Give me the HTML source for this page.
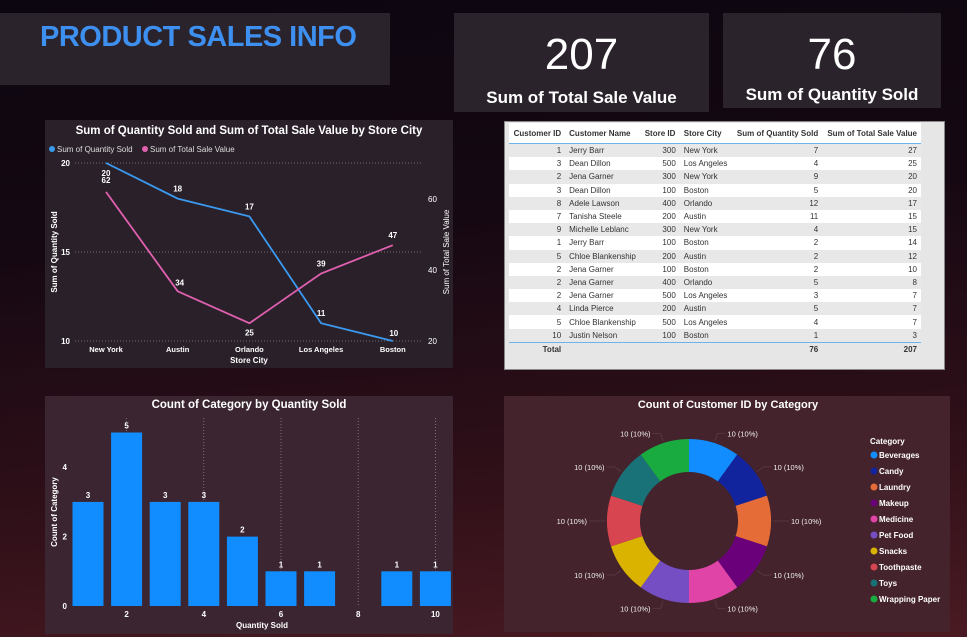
<!DOCTYPE html>
<html><head><meta charset="utf-8">
<style>
body{margin:0;width:967px;height:637px;overflow:hidden;font-family:"Liberation Sans",sans-serif;
background:linear-gradient(175deg,#0c0610 0%,#150812 35%,#2e0f18 70%,#4a1a22 100%);position:relative}
.panel{position:absolute;background:rgba(60,50,60,0.55)}
.t{position:absolute;color:#fff;font-weight:bold}
table{border-collapse:collapse;font-size:8px;color:#333;width:100%}
td,th{padding:0 4px;height:13.2px;white-space:nowrap}
th{font-weight:bold;text-align:left;border-bottom:1px solid #6fb3e8;height:20px}
tr:nth-child(even) td{background:#e8e8e8}
.r{text-align:right}
</style></head><body>
<div class="panel" style="left:0;top:13px;width:390px;height:72px;background:#2a232b"></div>
<div class="t" style="left:40px;top:21px;font-size:29px;color:#3d8ff0;letter-spacing:-0.5px">PRODUCT SALES INFO</div>
<div class="panel" style="left:454px;top:13px;width:255px;height:99px;background:#2a232b"></div>
<div class="t" style="left:454px;top:30px;width:255px;text-align:center;font-size:44px;font-weight:normal">207</div>
<div class="t" style="left:454px;top:88px;width:255px;text-align:center;font-size:17px">Sum of Total Sale Value</div>
<div class="panel" style="left:723px;top:13px;width:218px;height:95px;background:#2a232b"></div>
<div class="t" style="left:723px;top:30px;width:218px;text-align:center;font-size:44px;font-weight:normal">76</div>
<div class="t" style="left:723px;top:85px;width:218px;text-align:center;font-size:17px">Sum of Quantity Sold</div>

<svg width="967" height="637" style="position:absolute;left:0;top:0" font-family="Liberation Sans, sans-serif">
<rect x="45" y="120" width="408" height="248" fill="#2a2029"/>
<g id="line"></g>
<rect x="45" y="396" width="408" height="238" fill="#3a2530"/>
<g id="bar"></g>
<rect x="504" y="396" width="446" height="236" fill="#44232c"/>
<g id="donut"></g>
</svg>

<div style="position:absolute;left:504px;top:121px;width:439px;height:247px;background:#e6e6e6;border:1px solid #888">
<div style="margin:1px 4px 0 4px;background:#fff;width:412px">
<table>
<tr><th class="r">Customer ID</th><th>Customer Name</th><th>Store ID</th><th>Store City</th><th class="r">Sum of Quantity Sold</th><th class="r">Sum of Total Sale Value</th></tr>
<tr><td class="r">1</td><td>Jerry Barr</td><td class="r">300</td><td>New York</td><td class="r">7</td><td class="r">27</td></tr>
<tr><td class="r">3</td><td>Dean Dillon</td><td class="r">500</td><td>Los Angeles</td><td class="r">4</td><td class="r">25</td></tr>
<tr><td class="r">2</td><td>Jena Garner</td><td class="r">300</td><td>New York</td><td class="r">9</td><td class="r">20</td></tr>
<tr><td class="r">3</td><td>Dean Dillon</td><td class="r">100</td><td>Boston</td><td class="r">5</td><td class="r">20</td></tr>
<tr><td class="r">8</td><td>Adele Lawson</td><td class="r">400</td><td>Orlando</td><td class="r">12</td><td class="r">17</td></tr>
<tr><td class="r">7</td><td>Tanisha Steele</td><td class="r">200</td><td>Austin</td><td class="r">11</td><td class="r">15</td></tr>
<tr><td class="r">9</td><td>Michelle Leblanc</td><td class="r">300</td><td>New York</td><td class="r">4</td><td class="r">15</td></tr>
<tr><td class="r">1</td><td>Jerry Barr</td><td class="r">100</td><td>Boston</td><td class="r">2</td><td class="r">14</td></tr>
<tr><td class="r">5</td><td>Chloe Blankenship</td><td class="r">200</td><td>Austin</td><td class="r">2</td><td class="r">12</td></tr>
<tr><td class="r">2</td><td>Jena Garner</td><td class="r">100</td><td>Boston</td><td class="r">2</td><td class="r">10</td></tr>
<tr><td class="r">2</td><td>Jena Garner</td><td class="r">400</td><td>Orlando</td><td class="r">5</td><td class="r">8</td></tr>
<tr><td class="r">2</td><td>Jena Garner</td><td class="r">500</td><td>Los Angeles</td><td class="r">3</td><td class="r">7</td></tr>
<tr><td class="r">4</td><td>Linda Pierce</td><td class="r">200</td><td>Austin</td><td class="r">5</td><td class="r">7</td></tr>
<tr><td class="r">5</td><td>Chloe Blankenship</td><td class="r">500</td><td>Los Angeles</td><td class="r">4</td><td class="r">7</td></tr>
<tr><td class="r">10</td><td>Justin Nelson</td><td class="r">100</td><td>Boston</td><td class="r">1</td><td class="r">3</td></tr>
<tr style="border-top:1px solid #6fb3e8"><td class="r" style="background:#e6e6e6;font-weight:bold">Total</td><td style="background:#e6e6e6"></td><td style="background:#e6e6e6"></td><td style="background:#e6e6e6"></td><td class="r" style="background:#e6e6e6;font-weight:bold">76</td><td class="r" style="background:#e6e6e6;font-weight:bold">207</td></tr>
</table></div></div>

<script>
const NS="http://www.w3.org/2000/svg";
function mk(p,tag,a,txt){const e=document.createElementNS(NS,tag);for(const k in a)e.setAttribute(k,a[k]);if(txt!==undefined)e.textContent=txt;p.appendChild(e);return e;}

// ---- line chart data
const cities=["New York","Austin","Orlando","Los Angeles","Boston"];
const qtySold=[20,18,17,11,10];
const saleValue=[62,34,25,39,47];
const leftTicks=[10,15,20];
const rightTicks=[20,40,60];

// ---- bar chart data
const qtyCategories=[1,2,3,4,5,6,7,8,9,10];
const categoryCounts=[3,5,3,3,2,1,1,0,1,1];
const barYTicks=[0,2,4];
const barXTicks=[2,4,6,8,10];

// ---- donut data
const donutCats=["Beverages","Candy","Laundry","Makeup","Medicine","Pet Food","Snacks","Toothpaste","Toys","Wrapping Paper"];
const donutCounts=[10,10,10,10,10,10,10,10,10,10];
const donutColors=["#118dff","#12239e","#e66c37","#6b007b","#e044a7","#744ec2","#d9b300","#d64550","#197278","#1aab40"];

// Line chart
(function(){
const g=document.getElementById('line');
const xL=i=>106+i*71.7, yL=v=>341-(v-10)*17.8, yR=v=>341-(v-20)*3.55;
const t=mk(g,'text',{x:249,y:134,'text-anchor':'middle','font-size':11.5,'font-weight':'bold',fill:'#fff'},"Sum of Quantity Sold and Sum of Total Sale Value by Store City");


const l1=mk(g,'circle',{cx:52,cy:149,r:3,fill:'#3a9af0'});


mk(g,'text',{x:57,y:152,'font-size':8,fill:'#ddd'},"Sum of Quantity Sold");
const l2=mk(g,'circle',{cx:145,cy:149,r:3,fill:'#e060b0'});


mk(g,'text',{x:150,y:152,'font-size':8,fill:'#ddd'},"Sum of Total Sale Value");
leftTicks.forEach(v=>{
  const gl=mk(g,'line',{x1:75,x2:423,y1:yL(v),y2:yL(v),stroke:'#888','stroke-dasharray':'1,2','stroke-width':0.8});
  
  
  const tx=mk(g,'text',{x:70,y:yL(v)+3,'text-anchor':'end','font-size':8,'font-weight':'bold',fill:'#fff'},v);
  
  
});
rightTicks.forEach(v=>{
  const tx=mk(g,'text',{x:428,y:yR(v)+3,'font-size':8,fill:'#fff'},v);
  
  
});
cities.forEach((c,i)=>{
  const tx=mk(g,'text',{x:xL(i),y:352,'text-anchor':'middle','font-size':7.5,'font-weight':'bold',fill:'#fff'},c);
  
  
});
const xt=mk(g,'text',{x:249,y:363,'text-anchor':'middle','font-size':8,'font-weight':'bold',fill:'#fff'},"Store City");


const ylt=mk(g,'text',{x:0,y:0,transform:'translate(57,252) rotate(-90)','text-anchor':'middle','font-size':8,'font-weight':'bold',fill:'#fff'},"Sum of Quantity Sold");


const yrt=mk(g,'text',{x:0,y:0,transform:'translate(449,252) rotate(-90)','text-anchor':'middle','font-size':8,fill:'#fff'},"Sum of Total Sale Value");


const p1=mk(g,'polyline',{points:qtySold.map((v,i)=>xL(i)+','+yL(v)).join(' '),fill:'none',stroke:'#3a9af0','stroke-width':1.8});


const p2=mk(g,'polyline',{points:saleValue.map((v,i)=>xL(i)+','+yR(v)).join(' '),fill:'none',stroke:'#e060b0','stroke-width':1.8});


qtySold.forEach((v,i)=>{
  const tx=mk(g,'text',{x:xL(i)+(i===4?1:0),y:yL(v)+(i===0?13:(i===4?-5:-7)),'text-anchor':'middle','font-size':8,'font-weight':'bold',fill:'#fff'},v);
  
  
});
saleValue.forEach((v,i)=>{
  const off=(i===2)?12:-7;
  const tx=mk(g,'text',{x:xL(i)+(i===1?2:0),y:yR(v)+(i===0?-9:(i===1?-6:off)),'text-anchor':'middle','font-size':8,'font-weight':'bold',fill:'#fff'},v);
  
  
});
})();

// Bar chart
(function(){
const g=document.getElementById('bar');
const xB=v=>88+(v-1)*38.6, yB=v=>606-v*34.7, bw=31;
const t=mk(g,'text',{x:249,y:408,'text-anchor':'middle','font-size':11.5,'font-weight':'bold',fill:'#fff'},"Count of Category by Quantity Sold");


barYTicks.forEach(v=>{
  const tx=mk(g,'text',{x:67,y:yB(v)+3,'text-anchor':'end','font-size':8,'font-weight':'bold',fill:'#fff'},v);
  
  
});
barXTicks.forEach(v=>{
  const gl=mk(g,'line',{x1:xB(v),x2:xB(v),y1:418,y2:606,stroke:'#888','stroke-dasharray':'1,2','stroke-width':0.8});
  
  
  const tx=mk(g,'text',{x:xB(v),y:617,'text-anchor':'middle','font-size':8,'font-weight':'bold',fill:'#fff'},v);
  
  
});
const xt=mk(g,'text',{x:262,y:628,'text-anchor':'middle','font-size':8,'font-weight':'bold',fill:'#fff'},"Quantity Sold");


const yt=mk(g,'text',{x:0,y:0,transform:'translate(57,512) rotate(-90)','text-anchor':'middle','font-size':8,'font-weight':'bold',fill:'#fff'},"Count of Category");


qtyCategories.forEach((c,i)=>{
  const v=categoryCounts[i]; if(!v) return;
  const r=mk(g,'rect',{x:xB(c)-bw/2,y:yB(v),width:bw,height:yB(0)-yB(v),fill:'#118dff'});
  
  
  const tx=mk(g,'text',{x:xB(c),y:yB(v)-4,'text-anchor':'middle','font-size':8,'font-weight':'bold',fill:'#fff'},v);
  
  
});
})();

// Donut
(function(){
const g=document.getElementById('donut');
const cx=689,cy=521,R=82,r=49;
const t=mk(g,'text',{x:728,y:408,'text-anchor':'middle','font-size':11,'font-weight':'bold',fill:'#fff'},"Count of Customer ID by Category");


const total=donutCounts.reduce((a,b)=>a+b,0);
let a0=0;
donutCounts.forEach((v,i)=>{
  const a1=a0+v/total*2*Math.PI;
  const P=(rad,a)=>[cx+rad*Math.sin(a),cy-rad*Math.cos(a)];
  const [x1,y1]=P(R,a0),[x2,y2]=P(R,a1),[x3,y3]=P(r,a1),[x4,y4]=P(r,a0);
  const large=(a1-a0)>Math.PI?1:0;
  const s=mk(g,'path',{d:`M${x1},${y1}A${R},${R} 0 ${large} 1 ${x2},${y2}L${x3},${y3}A${r},${r} 0 ${large} 0 ${x4},${y4}Z`,fill:donutColors[i]});
  
  
  const am=(a0+a1)/2;
  const [ex,ey]=P(R+2,am);
  const [lx,ly]=P(R+10,am);
  const right=Math.sin(am)>0;
  const ln=mk(g,'polyline',{points:`${ex},${ey} ${lx},${ly} ${lx+(right?8:-8)},${ly}`,fill:'none',stroke:'#5a3a44','stroke-width':0.8});
  
  
  const pct=Math.round(v/total*100);
  const tx=mk(g,'text',{x:lx+(right?10:-10),y:ly+3,'text-anchor':right?'start':'end','font-size':7.5,fill:'#eee'},v+' ('+pct+'%)');
  
  
  a0=a1;
});
const lt=mk(g,'text',{x:870,y:444,'font-size':8,'font-weight':'bold',fill:'#fff'},"Category");


donutCats.forEach((c,i)=>{
  const y=455+i*16;
  const d=mk(g,'circle',{cx:874,cy:y,r:3.5,fill:donutColors[i]});
  
  
  const tx=mk(g,'text',{x:879,y:y+3,'font-size':8,'font-weight':'bold',fill:'#fff'},c);
  
  
});
})();
</script>
</body></html>
